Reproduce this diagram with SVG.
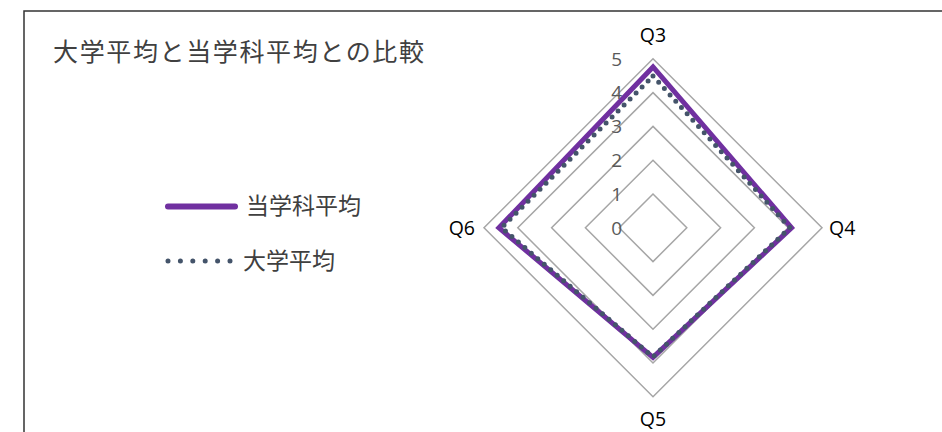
<svg xmlns="http://www.w3.org/2000/svg" width="942" height="432" viewBox="0 0 942 432">
<style>
.grid{fill:none;stroke:#A6A6A6;stroke-width:1.5}
.ax{font-family:"Open Sans","Liberation Sans",sans-serif;font-size:19.5px;fill:#000}
.num{font-family:"Open Sans","Liberation Sans",sans-serif;font-size:19px;fill:#595959;text-anchor:end}
.jp{font-family:"Noto Sans CJK JP","Noto Sans",sans-serif;fill:#404040}
.s1{fill:none;stroke:#7030A0;stroke-width:5;stroke-linejoin:miter}
.s2{fill:none;stroke:#44546A;stroke-width:5;stroke-linecap:round;stroke-dasharray:0 8.5}
</style>
<rect x="0" y="0" width="942" height="432" fill="#fff"/>
<rect id="frame" x="24" y="11" width="940" height="440" fill="#fff" stroke="#333" stroke-width="1.5"/>
<g id="title"><text class="jp" x="53" y="60.5" font-size="25" textLength="371" lengthAdjust="spacing">大学平均と当学科平均との比較</text></g>
<g id="grid">
<polygon class="grid" points="653,194 686.8,227.8 653,261.6 619.2,227.8"/>
<polygon class="grid" points="653,160.2 720.6,227.8 653,295.4 585.4,227.8"/>
<polygon class="grid" points="653,126.4 754.4,227.8 653,329.2 551.6,227.8"/>
<polygon class="grid" points="653,92.6 788.2,227.8 653,363 517.8,227.8"/>
<polygon class="grid" points="653,58.8 822,227.8 653,396.8 484,227.8"/>
</g>
<g id="series-dept"><polygon class="s1" points="653,66.9 791.6,227.8 653,357.3 498.9,227.8"/></g>
<g id="series-univ"><polygon class="s2" points="653,76 789.9,227.8 653,356.9 501.6,227.8"/></g>
<g id="axis-numbers">
<text class="num" x="622" y="65.5">5</text>
<text class="num" x="622" y="99.3">4</text>
<text class="num" x="622" y="133.1">3</text>
<text class="num" x="622" y="166.9">2</text>
<text class="num" x="622" y="200.7">1</text>
<text class="num" x="622" y="234.5">0</text>
</g>
<g id="axis-labels">
<text class="ax" x="653" y="42" text-anchor="middle">Q3</text>
<text class="ax" x="829" y="234.5">Q4</text>
<text class="ax" x="653" y="426" text-anchor="middle">Q5</text>
<text class="ax" x="475" y="234.5" text-anchor="end">Q6</text>
</g>
<g id="legend-dept">
<line x1="168" y1="206.5" x2="235" y2="206.5" stroke="#7030A0" stroke-width="6" stroke-linecap="round"/>
<text class="jp" x="246" y="214" font-size="23" fill="#595959">当学科平均</text>
</g>
<g id="legend-univ">
<line x1="168" y1="261" x2="230" y2="261" stroke="#44546A" stroke-width="5" stroke-linecap="round" stroke-dasharray="0 12.4"/>
<text class="jp" x="243" y="268.5" font-size="23" fill="#595959">大学平均</text>
</g>
</svg>
